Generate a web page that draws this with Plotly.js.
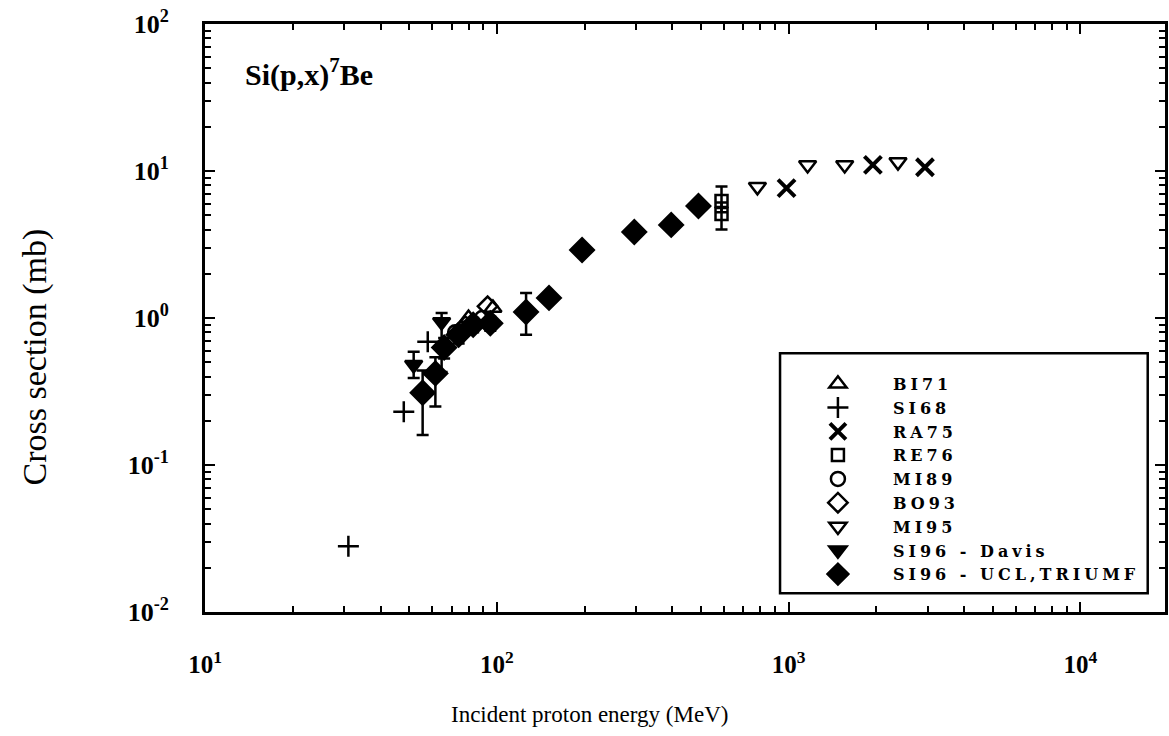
<!DOCTYPE html>
<html>
<head>
<meta charset="utf-8">
<script src="https://cdn.plot.ly/plotly-3.0.1.min.js"></script>
<style>
html,body{margin:0;padding:0;background:#fff;}
#chart{width:1169px;height:736px;}
.legendtext{letter-spacing:4px;}
</style>
</head>
<body>
<div id="chart"></div>
<script>
// ---- data ----
const bi71_x = [80, 97];
const bi71_y = [1.0, 1.17];
const si68_x = [31, 48, 58];
const si68_y = [0.028, 0.23, 0.69];
const ra75_x = [984, 1945, 2933];
const ra75_y = [7.65, 11.0, 10.6];
const re76_x = [589, 589];
const re76_y = [6.25, 5.1];
const re76_eplus = [1.6, 1.0];
const re76_eminus = [1.0, 1.1];
const mi89_x = [72, 89];
const mi89_y = [0.8, 1.0];
const bo93_x = [78, 93];
const bo93_y = [0.88, 1.2];
const mi95_x = [782, 1162, 1557, 2371];
const mi95_y = [7.8, 11.0, 11.0, 11.5];
const davis_x = [51.9, 64.7];
const davis_y = [0.48, 0.94];
const davis_eplus = [0.11, 0.14];
const davis_eminus = [0.09, 0.51];
const ucl_x = [55.7, 61.6, 66, 74, 83, 95, 126, 151, 196, 296, 396, 491];
const ucl_y = [0.31, 0.42, 0.63, 0.77, 0.90, 0.92, 1.10, 1.37, 2.90, 3.85, 4.30, 5.78];
const ucl_eplus = [0.13, 0.12, 0.1, 0.1, 0.1, 0.1, 0.38, 0.1, 0, 0, 0, 0];
const ucl_eminus = [0.15, 0.17, 0.1, 0.1, 0.1, 0.1, 0.33, 0.1, 0, 0, 0, 0];
const xTickVals = [10, 100, 1000, 10000];
const xTickText = ['10<sup>1</sup>', '10<sup>2</sup>', '10<sup>3</sup>', '10<sup>4</sup>'];
const yTickVals = [0.01, 0.1, 1, 10, 100];
const yTickText = ['10<sup>-2</sup>', '10<sup>-1</sup>', '10<sup>0</sup>', '10<sup>1</sup>', '10<sup>2</sup>'];

// minor tick positions
function minors(lo, hi) {
  const out = [];
  for (let e = lo; e < hi; e++) for (let k = 2; k <= 9; k++) out.push(k * Math.pow(10, e));
  return out;
}

const FONT = 'Liberation Serif, DejaVu Serif, serif';
const LFONT = 'DejaVu Serif, Liberation Serif, serif';
const ms = 15;
function errs(plus, minus) {
  return {type: 'data', symmetric: false, array: plus, arrayminus: minus, color: '#000', thickness: 2.5, width: 6};
}
function tr(name, x, y, symbol, size, extra) {
  return Object.assign({
    type: 'scatter', mode: 'markers', name: name, x: x, y: y,
    marker: {symbol: symbol, size: size, color: '#000', line: {color: '#000', width: 2.5}},
    cliponaxis: false
  }, extra || {});
}
const traces = [
  tr('BI71', bi71_x, bi71_y, 'triangle-up-open', ms),
  tr('SI68', si68_x, si68_y, 'cross-thin-open', ms),
  tr('RA75', ra75_x, ra75_y, 'x-thin-open', ms + 2, {marker: {symbol: 'x-thin-open', size: ms + 2, color: '#000', line: {color: '#000', width: 4}}}),
  tr('RE76', re76_x, re76_y, 'square-open', ms - 3, {error_y: errs(re76_eplus, re76_eminus)}),
  tr('MI89', mi89_x, mi89_y, 'circle-open', ms - 1),
  tr('BO93', bo93_x, bo93_y, 'diamond-open', ms),
  tr('MI95', mi95_x, mi95_y, 'triangle-down-open', ms),
  tr('SI96 - Davis', davis_x, davis_y, 'triangle-down', ms, {error_y: errs(davis_eplus, davis_eminus)}),
  tr('SI96 - UCL,TRIUMF', ucl_x, ucl_y, 'diamond', ms + 3, {error_y: errs(ucl_eplus, ucl_eminus)})
];

const layout = {
  width: 1169, height: 736,
  margin: {l: 205, r: 4, t: 24, b: 124},
  paper_bgcolor: '#fff', plot_bgcolor: '#fff',
  font: {family: FONT, color: '#000', size: 20},
  showlegend: true,
  legend: {
    x: 0.602, y: 0.417, xanchor: 'left', yanchor: 'top',
    bgcolor: 'rgba(255,255,255,0)', borderwidth: 0,
    font: {family: LFONT, size: 16, color: '#000', weight: 'bold'},
    itemwidth: 100, tracegroupgap: 0
  },
  xaxis: {
    type: 'log', range: [1, 4.29],
    tickvals: xTickVals, ticktext: xTickText,
    ticks: 'inside', ticklen: 10, tickwidth: 2, tickcolor: '#000',
    minor: {tickvals: minors(1, 5), ticks: 'inside', ticklen: 6, tickwidth: 2, tickcolor: '#000'},
    showline: true, linewidth: 3, linecolor: '#000', mirror: 'ticks',
    showgrid: false, zeroline: false,
    ticklabelstandoff: 28,
    tickfont: {family: FONT, size: 25, color: '#000', weight: 'bold'}
  },
  yaxis: {
    type: 'log', range: [-2, 2],
    tickvals: yTickVals, ticktext: yTickText,
    ticks: 'inside', ticklen: 10, tickwidth: 2, tickcolor: '#000',
    minor: {tickvals: minors(-2, 2), ticks: 'inside', ticklen: 6, tickwidth: 2, tickcolor: '#000'},
    showline: true, linewidth: 3, linecolor: '#000', mirror: 'ticks',
    showgrid: false, zeroline: false,
    ticklabelstandoff: 28,
    tickfont: {family: FONT, size: 26, color: '#000', weight: 'bold'}
  },
  shapes: [
    {type: 'rect', xref: 'paper', yref: 'paper', x0: 0.599, x1: 0.982, y0: 0.032, y1: 0.44,
     line: {color: '#000', width: 2.5}, fillcolor: 'rgba(0,0,0,0)'}
  ],
  annotations: [
    {xref: 'paper', yref: 'paper', x: 0.04, y: 0.918, xanchor: 'left', yanchor: 'middle', showarrow: false,
     text: '<b>Si(p,x)<sup>7</sup>Be</b>', font: {family: FONT, size: 30, color: '#000'}},
    {xref: 'paper', yref: 'paper', x: -0.177, y: 0.433, xanchor: 'center', yanchor: 'middle', showarrow: false,
     textangle: -90, text: 'Cross section (mb)', font: {family: FONT, size: 34, color: '#000'}},
    {xref: 'paper', yref: 'paper', x: 0.40, y: -0.175, xanchor: 'center', yanchor: 'middle', showarrow: false,
     text: 'Incident proton energy (MeV)', font: {family: FONT, size: 23, color: '#000'}}
  ]
};

Plotly.newPlot('chart', traces, layout, {displayModeBar: false, staticPlot: true});
</script>
</body>
</html>
